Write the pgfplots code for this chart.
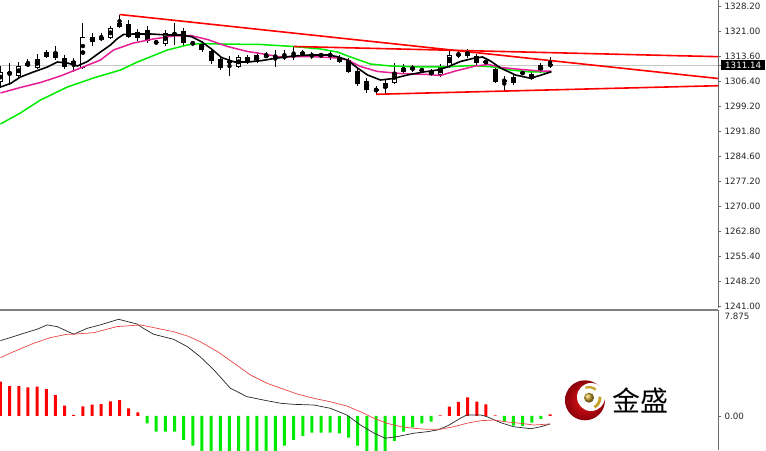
\documentclass[border=0pt]{standalone}
\usepackage{pgfplots}
\pgfplotsset{compat=1.18}
\usepackage{pgfplotstable}
\usepackage{fontspec}
\setmainfont{DejaVu Sans}
\newfontfamily\cjk{Noto Sans CJK SC}

\definecolor{mtred}{RGB}{255,0,0}
\definecolor{mtlime}{RGB}{0,235,0}
\definecolor{mtpink}{RGB}{230,30,150}
\definecolor{axgray}{RGB}{105,105,105}
\definecolor{sigred}{RGB}{235,70,70}
\definecolor{gold}{RGB}{200,160,40}

% candles: index, open, high, low, close
\pgfplotstableread{
i o h l c
0 1306.22 1310.88 1304.47 1309.13
1 1308.55 1311.75 1305.35 1309.13
2 1307.97 1312.04 1307.09 1310.88
3 1310.88 1312.92 1310.59 1311.75
4 1310.30 1314.37 1310.00 1312.92
5 1313.64 1315.54 1313.21 1314.95
6 1315.10 1316.70 1312.62 1313.21
7 1313.21 1314.08 1310.00 1310.59
8 1311.46 1313.21 1309.13 1312.33
9 1310.30 1323.39 1310.00 1319.32
10 1319.32 1320.48 1316.70 1317.86
11 1318.45 1320.48 1318.16 1319.47
12 1319.03 1322.52 1318.74 1321.94
13 1322.23 1325.87 1321.94 1323.39
14 1323.10 1324.27 1319.03 1319.32
15 1319.03 1321.65 1318.16 1320.77
16 1321.36 1322.52 1317.57 1318.16
17 1317.86 1318.30 1317.28 1317.63
18 1317.28 1321.36 1316.70 1320.48
19 1319.90 1323.39 1316.99 1320.48
20 1321.07 1321.94 1316.70 1317.57
21 1317.57 1318.16 1316.99 1317.37
22 1317.57 1318.16 1314.95 1315.54
23 1315.24 1315.83 1311.46 1312.33
24 1312.92 1313.79 1309.71 1310.30
25 1312.04 1313.79 1307.97 1312.19
26 1310.59 1314.08 1310.30 1313.50
27 1313.50 1314.08 1311.46 1312.04
28 1312.04 1314.95 1311.75 1314.08
29 1314.08 1314.95 1313.21 1313.50
30 1313.50 1315.54 1310.59 1313.79
31 1313.50 1315.54 1312.62 1313.64
32 1313.79 1316.41 1312.62 1314.08
33 1314.08 1315.54 1313.50 1314.95
34 1313.50 1314.95 1312.92 1314.37
35 1314.08 1314.66 1313.50 1313.88
36 1313.99 1315.54 1312.62 1314.08
37 1313.50 1314.08 1311.75 1312.04
38 1312.62 1313.21 1308.84 1309.13
39 1309.57 1310.30 1305.06 1305.64
40 1306.51 1307.38 1303.02 1303.89
41 1304.04 1305.06 1302.64 1303.80
42 1304.47 1306.80 1302.73 1305.93
43 1305.93 1311.75 1305.64 1309.13
44 1309.13 1311.46 1308.55 1310.30
45 1310.59 1311.17 1309.13 1309.71
46 1309.71 1310.30 1309.13 1309.54
47 1309.42 1310.00 1307.97 1308.26
48 1308.26 1311.46 1307.68 1310.59
49 1310.59 1315.54 1310.30 1314.08
50 1314.08 1315.39 1313.21 1314.22
51 1313.93 1315.83 1313.21 1315.10
52 1313.79 1314.37 1311.17 1311.75
53 1312.33 1312.92 1311.17 1311.75
54 1310.00 1310.59 1305.93 1306.22
55 1306.51 1307.97 1303.60 1306.66
56 1305.93 1308.55 1305.35 1307.68
57 1308.69 1309.42 1308.26 1308.98
58 1307.09 1309.13 1306.80 1308.55
59 1309.28 1311.75 1308.84 1311.17
60 1311.26 1313.50 1310.30 1311.14
}\candles

\pgfplotsset{
  mt/.style={
    scale only axis, width=718pt,
    xmin=-0.05, xmax=78.33,
    axis line style={-},
    tick align=outside, major tick length=3pt,
    tick style={draw=axgray, line width=0.6pt},
    yticklabel style={font=\fontsize{8.7}{10}\selectfont, text=black!85},
    /pgf/number format/fixed,
    /pgf/number format/fixed zerofill,
    /pgf/number format/precision=2,
    /pgf/number format/1000 sep={},
    /pgf/number format/assume math mode=true,
  },
  bars/.style={only marks, mark=none, forget plot,
    error bars/.cd, y dir=both, y explicit, error mark=none},
}

\begin{document}
\begin{tikzpicture}
\useasboundingbox (0,0) rectangle (766pt,450pt);

% price window
\begin{axis}[mt,
  at={(0pt,142pt)}, anchor=south west, height=308pt,
  ymin=1240.43, ymax=1330.09,
  hide x axis,
  axis y line*=right,
  y axis line style={draw=axgray, line width=0.8pt},
  ytick={1241,1248.2,1255.4,1262.8,1270,1277.2,1284.6,1291.8,1299.2,1306.4,1313.6,1321,1328.2},
  extra y ticks={1311.14},
  extra y tick style={grid=major, major grid style={draw=black!22, line width=0.6pt},
    yticklabel style={fill=black, text=white, inner xsep=4pt, inner ysep=1.8pt}},
]
% wicks
\addplot[bars, error bar style={draw=black, line width=0.9pt}]
  table[x=i, y expr={(\thisrow{h}+\thisrow{l})/2}, y error expr={(\thisrow{h}-\thisrow{l})/2}] {\candles};
% bodies
\addplot[bars, error bar style={draw=black, line width=5pt}]
  table[x=i, y expr={(\thisrow{o}+\thisrow{c})/2}, y error expr={max(abs(\thisrow{o}-\thisrow{c})/2,0.17)}] {\candles};
% hollow insides of rising candles
\addplot[bars, error bar style={draw=white, line width=3.2pt}]
  table[x=i, y expr={(\thisrow{o}+\thisrow{c})/2}, y error expr={max((\thisrow{c}-\thisrow{o})/2-0.3,0)}] {\candles};

% slow MA
\addplot[mtlime, line width=1.5pt] coordinates {
(0,1293.99) (2.18,1297.20) (4.37,1300.98) (7.31,1304.76) (10.15,1307.38) (13.1,1309.71)
(14.96,1312.04) (18.23,1315.54) (20.41,1316.99) (21.83,1317.43) (23.69,1317.28) (28.38,1317.14)
(31.99,1316.55) (34.93,1315.83) (36.79,1314.95) (38.21,1313.50) (40.39,1311.46) (42.58,1310.88)
(45.85,1310.59) (48.36,1310.59) (51.64,1311.02) (53.82,1310.59) (55.68,1309.71) (57.86,1309.13)
(60.04,1309.13)};
% middle MA
\addplot[mtpink, line width=1.5pt] coordinates {
(0,1303.02) (2.18,1304.62) (4.37,1306.07) (6.55,1307.97) (8.19,1309.71) (9.83,1311.46)
(10.92,1312.62) (12.34,1315.54) (14.52,1317.57) (16.70,1318.74) (18.89,1319.61) (20.74,1319.76)
(22.60,1318.59) (24.78,1316.55) (26.97,1315.10) (28.38,1314.52) (30.57,1313.50) (33.84,1313.64)
(36.79,1313.21) (37.88,1312.62) (39.30,1310.73) (41.16,1309.28) (43.67,1308.69) (46.62,1308.40)
(48.03,1308.11) (49.67,1309.42) (51.86,1310.88) (53.28,1311.31) (54.69,1310.44) (56.88,1309.86)
(58.95,1309.42) (60.15,1309.42)};
% fast MA
\addplot[black, line width=1.6pt] coordinates {
(0,1304.76) (1.09,1305.78) (2.18,1307.68) (3.60,1309.13) (5.13,1310.59) (6.22,1312.04)
(7.31,1311.75) (8.41,1310.88) (9.50,1312.19) (10.92,1314.95) (12.01,1316.99) (12.77,1318.88)
(13.43,1320.05) (14.52,1320.19) (16.38,1320.19) (18.23,1319.90) (19.65,1319.90) (20.85,1319.41)
(21.94,1317.95) (23.03,1315.83) (24.13,1313.35) (25.55,1312.04) (27.07,1312.04) (28.60,1312.48)
(30.02,1313.12) (31.99,1313.79) (33.84,1314.08) (35.70,1314.08) (36.79,1313.59) (37.88,1312.62)
(38.97,1310.30) (40.07,1308.26) (41.48,1306.80) (42.90,1307.24) (44.43,1308.26) (46.18,1309.13)
(47.71,1309.71) (48.80,1310.59) (50.22,1312.19) (51.64,1313.12) (52.62,1313.50) (53.49,1312.33)
(54.59,1310.30) (56.22,1308.26) (57.86,1307.30) (59.06,1308.26) (60.15,1309.22)};
% trend lines
\addplot[mtred, line width=1.6pt] coordinates {(13,1325.87) (78.33,1307.24)};
\addplot[mtred, line width=1.6pt] coordinates {(32,1316.56) (78.33,1313.59)};
\addplot[mtred, line width=1.6pt] coordinates {(41,1302.64) (78.33,1305.14)};
\end{axis}

% MACD window
\begin{axis}[mt,
  at={(0pt,0pt)}, anchor=south west, height=140pt,
  ymin=-2.6, ymax=8.1,
  separate axis lines,
  axis x line*=top, axis y line*=right,
  x axis line style={draw=black!50, line width=2pt},
  y axis line style={draw=axgray, line width=0.8pt},
  xtick=\empty,
  ytick={0}, yticklabels={0.00},
  extra y ticks={7.875}, extra y tick labels={7.875},
  extra y tick style={major tick length=0pt, yticklabel style={yshift=-3.5pt, xshift=3pt}},
]
\addplot[ybar, bar width=3pt, bar shift=0pt, fill=mtred, draw=none] coordinates {
(0,2.62) (1,2.29) (2,2.29) (3,2.19) (4,2.24) (5,2.06) (6,1.60) (7,0.79) (8,0.08) (9,0.74)
(10,0.87) (11,0.90) (12,1.12) (13,1.22) (14,0.59) (15,0.28)
(48,0.05) (49,0.71) (50,1.07) (51,1.43) (52,1.10) (53,0.89) (54,0.05) (60,0.12)};
\addplot[ybar, bar width=3pt, bar shift=0pt, fill=mtlime, draw=none] coordinates {
(16,-0.56) (17,-1.20) (18,-1.20) (19,-1.20) (20,-1.83) (21,-2.27) (22,-2.9) (23,-3.2)
(24,-3.5) (25,-3.6) (26,-3.6) (27,-3.5) (28,-3.3) (29,-3.2) (30,-3.0) (31,-2.27) (32,-1.83)
(33,-1.53) (34,-1.27) (35,-1.27) (36,-1.27) (37,-1.32) (38,-1.66) (39,-2.27) (40,-2.8)
(41,-3.0) (42,-2.8) (43,-1.91) (44,-1.20) (45,-0.87) (46,-0.56) (47,-0.43)
(55,-0.43) (56,-0.74) (57,-0.76) (58,-0.51) (59,-0.23)};
\addplot[black!85, line width=0.7pt] coordinates {
(0,5.76) (1.09,5.99) (2.54,6.32) (4.0,6.63) (5.1,6.96) (6.19,6.83) (8.0,6.25) (9.47,6.70)
(10.9,6.96) (12.9,7.39) (14.9,7.03) (15.6,6.70) (16.7,6.25) (18.9,5.86) (20.4,5.30) (21.8,4.53)
(23.3,3.52) (25.1,2.12) (26.9,1.48) (28.7,1.22) (30.6,0.97) (32.0,0.89) (34.2,0.84) (36.0,0.59)
(37.8,0.08) (39.3,-0.69) (40.8,-1.32) (42.0,-1.70) (43.3,-1.58) (45.1,-1.32) (46.6,-1.20)
(47.7,-1.07) (48.8,-0.76) (50.2,-0.18) (50.9,0.08) (52.4,0.08) (53.1,-0.05) (54.6,-0.51)
(56.0,-0.82) (57.9,-0.97) (59.0,-0.82) (60.0,-0.61)};
\addplot[sigred, line width=0.7pt] coordinates {
(0,4.46) (1.45,4.92) (3.64,5.56) (5.46,5.99) (7.28,6.25) (8.0,6.25) (10.2,6.37) (12.7,6.83)
(15.3,6.96) (17.1,6.70) (18.9,6.44) (20.4,6.12) (21.8,5.68) (23.7,4.92) (25.5,4.03) (27.3,3.13)
(29.1,2.50) (30.6,2.12) (32.4,1.68) (34.2,1.35) (36.0,1.09) (37.8,0.76) (39.3,0.33) (40.8,-0.18)
(42.2,-0.56) (43.7,-0.82) (45.1,-0.94) (46.6,-1.02) (48.0,-1.02) (49.5,-0.82) (50.9,-0.56)
(52.4,-0.36) (53.9,-0.31) (55.3,-0.46) (56.8,-0.56) (58.2,-0.69) (60.0,-0.61)};
\end{axis}

% logo
\shade[inner color={rgb,255:red,230;green,25;blue,25}, outer color={rgb,255:red,140;green,0;blue,10}]
  (585pt,49.7pt) circle (20pt);
\fill[white] (591pt,53pt) circle (14pt);
\shade[ball color=gold] (589pt,52.3pt) circle (5pt);
\draw[gold, line width=2.2pt] (589pt,52.3pt) ++(110:10.5pt) arc (110:50:10.5pt);
\draw[gold, line width=2.8pt] (589pt,52.3pt) ++(5:11pt) arc (5:-60:11pt);
\node[anchor=west, inner sep=0pt, font=\cjk\fontsize{28}{29}\selectfont] at (612pt,49.5pt) {金盛};
\end{tikzpicture}
\end{document}
